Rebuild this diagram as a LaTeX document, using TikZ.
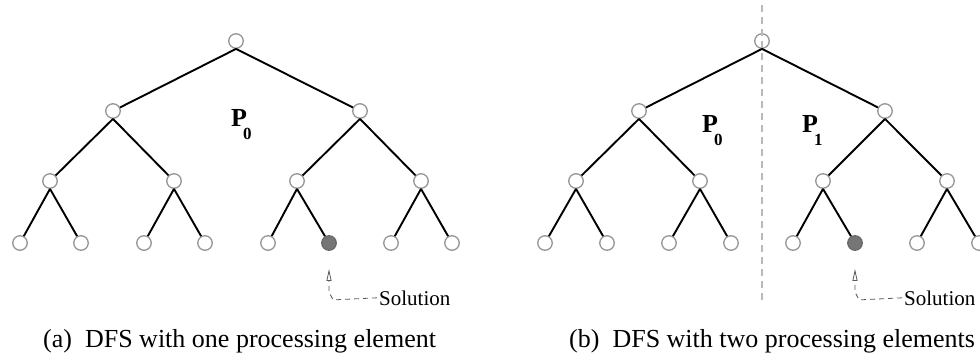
\documentclass[tikz,border=0pt]{standalone}
\usepackage{fontspec}
\setmainfont{Liberation Serif}
\usetikzlibrary{arrows.meta}
\definecolor{ringgray}{RGB}{150,150,150}
\definecolor{solgray}{RGB}{118,118,118}
\definecolor{divgray}{RGB}{185,185,185}
\definecolor{arrgray}{RGB}{90,90,90}
\tikzset{
  nd/.style={circle, draw=ringgray, line width=1.3pt, fill=white, minimum size=14.5pt, inner sep=0pt},
  ndsol/.style={nd, fill=solgray, draw=solgray!90!black},
  edge/.style={line width=1.9pt, black},
  divider/.style={draw=divgray, line width=1.6pt, dash pattern=on 7pt off 5pt},
  solline/.style={draw=arrgray, line width=0.8pt, dash pattern=on 5pt off 4pt, -{Triangle[open,length=12pt,width=5pt]}},
  sollabel/.style={font=\fontsize{21}{21}\selectfont, inner sep=2pt, anchor=base west},
  caption/.style={font=\fontsize{26}{26}\selectfont, inner sep=0pt, anchor=base west},
  plabel/.style={font=\fontsize{26}{26}\selectfont\bfseries, inner sep=0pt, anchor=base west}
}
\newcommand{\Plab}[1]{P\kern-4pt\raisebox{-12.5pt}{\fontsize{17}{17}\selectfont #1}}
\begin{document}
\begin{tikzpicture}[x=1pt,y=-1pt]
\useasboundingbox (0,0) rectangle (980,358);
% ---- tree (a)
\node[nd] (a1) at (236,41) {};
\node[nd] (a2) at (113,111) {};
\node[nd] (a3) at (360,111) {};
\node[nd] (a4) at (50,181) {};
\node[nd] (a5) at (174,181) {};
\node[nd] (a6) at (297,181) {};
\node[nd] (a7) at (421,181) {};
\node[nd] (a8) at (20,243) {};
\node[nd] (a9) at (81,243) {};
\node[nd] (a10) at (144,243) {};
\node[nd] (a11) at (205,243) {};
\node[nd] (a12) at (268,243) {};
\node[ndsol] (a13) at (329,243) {};
\node[nd] (a14) at (391,243) {};
\node[nd] (a15) at (452,243) {};
% ---- tree (b)
\node[nd] (b1) at (762,41) {};
\node[nd] (b2) at (639,111) {};
\node[nd] (b3) at (885,111) {};
\node[nd] (b4) at (576,181) {};
\node[nd] (b5) at (700,181) {};
\node[nd] (b6) at (823,181) {};
\node[nd] (b7) at (947,181) {};
\node[nd] (b8) at (545,243) {};
\node[nd] (b9) at (607,243) {};
\node[nd] (b10) at (669,243) {};
\node[nd] (b11) at (731,243) {};
\node[nd] (b12) at (793,243) {};
\node[ndsol] (b13) at (855,243) {};
\node[nd] (b14) at (917,243) {};
\node[nd] (b15) at (979,243) {};
% ---- edges
\foreach \t in {a,b}{
  \foreach \i in {1,...,7}{
    \pgfmathtruncatemacro{\l}{2*\i}
    \pgfmathtruncatemacro{\r}{2*\i+1}
    \draw[edge] (\t\i.south) -- (\t\l);
    \draw[edge] (\t\i.south) -- (\t\r);
  }
}
% ---- divider
\coordinate (dtop) at (762,5);
\coordinate (dbot) at (762,302);
\draw[divider] (dtop) -- (dbot);
% ---- processor labels
\node[plabel] (pa0) at (231,127) {\Plab{0}};
\node[plabel] (pb0) at (702,133) {\Plab{0}};
\node[plabel] (pb1) at (802,133) {\Plab{1}};
% ---- solution labels
\node[sollabel] (sola) at (377,305) {Solution};
\node[sollabel] (solb) at (902,305) {Solution};
\draw[solline] (sola.west) -- ([xshift=4pt,yshift=-49pt]a13.south) -- ([yshift=-41pt]a13.south) -- ([yshift=-18pt]a13.south);
\draw[solline] (solb.west) -- ([xshift=4pt,yshift=-49pt]b13.south) -- ([yshift=-41pt]b13.south) -- ([yshift=-18pt]b13.south);
% ---- captions
\node[caption] (capa) at (43,347) {(a)\ \ DFS with one processing element};
\node[caption] (capb) at (569,347) {(b)\ \ DFS with two processing elements};
\end{tikzpicture}
\end{document}
